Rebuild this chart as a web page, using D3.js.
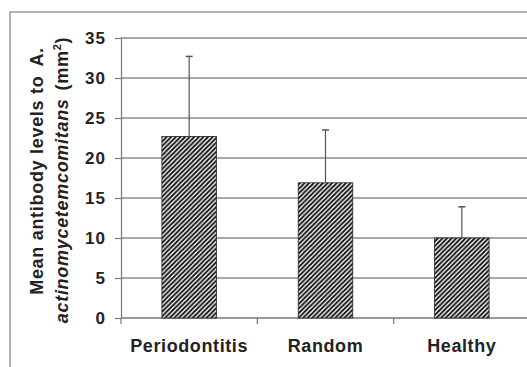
<!DOCTYPE html>
<html><head><meta charset="utf-8">
<script src="https://cdn.jsdelivr.net/npm/d3@7"></script>
<style>
html,body{margin:0;padding:0;background:#fff;}
svg{display:block;}
text{font-family:"Liberation Sans",Arial,sans-serif;font-weight:bold;fill:#222;}
</style></head>
<body>
<script>
const categories = ["Periodontitis", "Random", "Healthy"];
const means = [22.7, 16.9, 10.0];
const errorTops = [32.7, 23.5, 13.9];
const yTicks = [0, 5, 10, 15, 20, 25, 30, 35];

const W = 527, H = 367;
const svg = d3.select("body").append("svg").attr("width", W).attr("height", H);

const defs = svg.append("defs");
const P = 4.6;
const pat = defs.append("pattern").attr("id","hatch").attr("patternUnits","userSpaceOnUse")
  .attr("width",P).attr("height",P);
pat.append("rect").attr("width",P).attr("height",P).attr("fill","#fff");
pat.append("path").attr("d",`M-1,1 l2,-2 M0,${P} l${P},-${P} M${P-1},${P+1} l2,-2`)
  .attr("stroke","#111").attr("stroke-width",1.8);

// outer frame
svg.append("rect").attr("x",10).attr("y",12).attr("width",W).attr("height",H)
  .attr("fill","none").attr("stroke","#999").attr("stroke-width",1.5);

const x0 = 121, xEnd = 530, yTop = 38, yBot = 318;
const x = d3.scaleBand().domain(categories).range([x0, xEnd]).paddingInner(0.6).paddingOuter(0.3);
const y = d3.scaleLinear().domain([0, 35]).range([yBot, yTop]);

// gridlines
svg.append("g").selectAll("line").data(yTicks.filter(d=>d>0)).join("line")
  .attr("x1", x0).attr("x2", W).attr("y1", d=>y(d)).attr("y2", d=>y(d))
  .attr("stroke","#8a8a8a").attr("stroke-width",1.5);

// y axis
const yAxis = svg.append("g").attr("transform",`translate(${x0},0)`)
  .call(d3.axisLeft(y).tickValues(yTicks).tickSize(6).tickPadding(9).tickFormat(d3.format("d")));
yAxis.select(".domain").attr("stroke","#777").attr("stroke-width",1.2);
yAxis.selectAll(".tick line").attr("stroke","#777").attr("stroke-width",1.2);
yAxis.selectAll(".tick text").attr("font-size",17).attr("font-family","Liberation Sans, Arial, sans-serif")
  .attr("font-weight","bold").attr("fill","#222").attr("letter-spacing","1");

// x axis baseline
svg.append("line").attr("x1",x0).attr("x2",W).attr("y1",yBot).attr("y2",yBot)
  .attr("stroke","#777").attr("stroke-width",1.5);
// category boundary ticks
const bounds = categories.map((c,i)=> x(c) - x.step()*x.paddingInner()/2 - (i===0 ? x.step()*(x.paddingOuter()-x.paddingInner()/2) : 0));
svg.append("g").selectAll("line").data(bounds).join("line")
  .attr("x1",d=>d).attr("x2",d=>d).attr("y1",yBot).attr("y2",yBot+6)
  .attr("stroke","#777").attr("stroke-width",1.2);

// bars
svg.append("g").selectAll("rect").data(categories).join("rect")
  .attr("x", d=>x(d)).attr("width", x.bandwidth())
  .attr("y", (d,i)=>y(means[i])).attr("height",(d,i)=>y(0)-y(means[i]))
  .attr("fill","url(#hatch)").attr("stroke","#222").attr("stroke-width",0.8);

// error bars
const eb = svg.append("g");
categories.forEach((c,i)=>{
  const cx = x(c) + x.bandwidth()/2;
  eb.append("line").attr("x1",cx).attr("x2",cx).attr("y1",y(means[i])).attr("y2",y(errorTops[i]))
    .attr("stroke","#555").attr("stroke-width",1.2);
  eb.append("line").attr("x1",cx-3.5).attr("x2",cx+3.5).attr("y1",y(errorTops[i])).attr("y2",y(errorTops[i]))
    .attr("stroke","#555").attr("stroke-width",1.5);
});

// category labels
svg.append("g").selectAll("text").data(categories).join("text")
  .attr("x", d=>x(d)+x.bandwidth()/2).attr("y", 352)
  .attr("text-anchor","middle").attr("font-size",18).attr("letter-spacing","0.6")
  .text(d=>d);

// y label
const yl1 = svg.append("text").attr("transform","translate(43,171) rotate(-90)")
  .attr("text-anchor","middle").attr("font-size",18).attr("letter-spacing","0.7");
yl1.append("tspan").text("Mean antibody levels to ");
yl1.append("tspan").attr("dx",4).text("A.");

const yl2 = svg.append("text").attr("transform","translate(68,180) rotate(-90)")
  .attr("text-anchor","middle").attr("font-size",18).attr("letter-spacing","0.7");
yl2.append("tspan").attr("font-style","italic").text("actinomycetemcomitans");
yl2.append("tspan").attr("dx",8).text("(mm");
yl2.append("tspan").attr("dy",-7).attr("font-size",11).text("2");
yl2.append("tspan").attr("dy",7).text(")");
</script>
</body></html>
